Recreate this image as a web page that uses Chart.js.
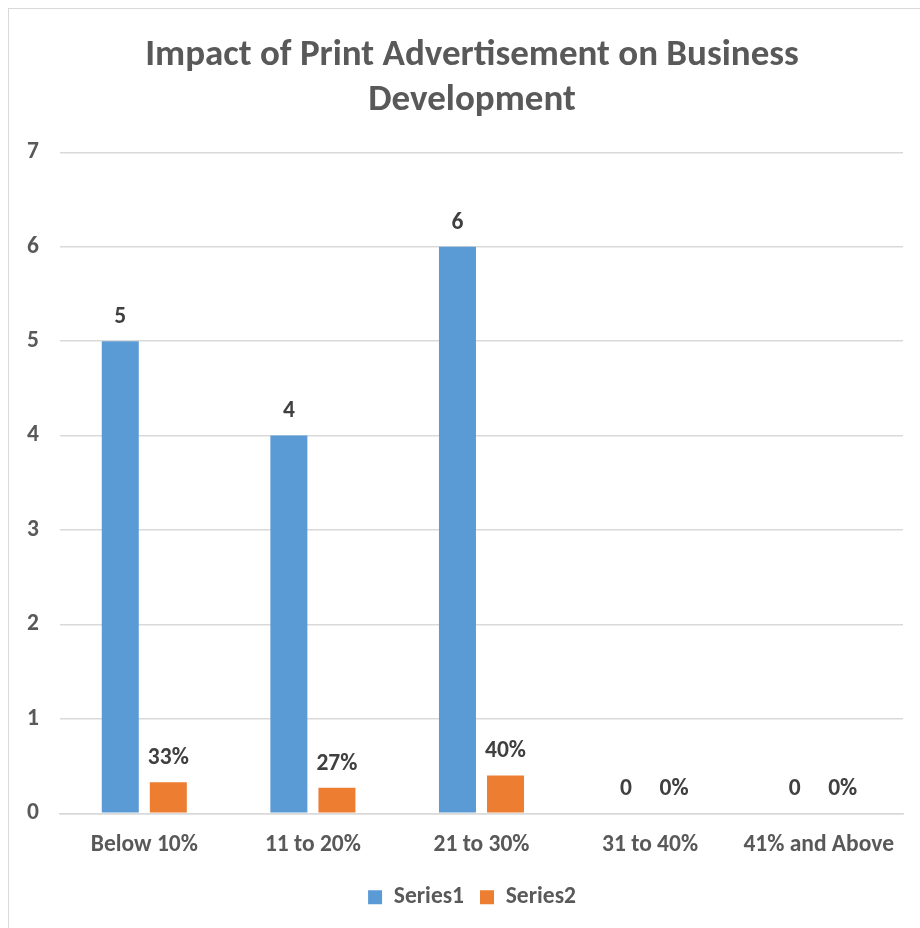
<!DOCTYPE html>
<html>
<head>
<meta charset="utf-8">
<title>Impact of Print Advertisement on Business Development</title>
<script src="https://cdn.jsdelivr.net/npm/chart.js@4/dist/chart.umd.min.js"></script>
<style>
  html, body { margin: 0; padding: 0; background: #ffffff; }
  #frame {
    position: absolute; left: 8px; top: 8px;
    width: 940px; height: 940px;
    border: 1px solid #d9d9d9;
  }
  #wrap { position: absolute; left: 0; top: 0; width: 920px; height: 928px; }
</style>
</head>
<body>
<div id="frame"></div>
<div id="wrap"><canvas id="impactChart"></canvas></div>
<script>
// Impact of print ads, grouped by growth band
var categories = ['Below 10%', '11 to 20%', '21 to 30%', '31 to 40%', '41% and Above'];
var series1 = [5, 4, 6, 0, 0];
var series2 = [0.33, 0.27, 0.40, 0, 0];
var yTicks = [0, 1, 2, 3, 4, 5, 6, 7];

var FONT = "Carlito, 'Liberation Sans Narrow', 'Open Sans', sans-serif";
var GREY = '#595959';

// Value labels over each bar (Series2 shown as percent)
var barLabels = {
    id: 'barLabels',
    afterDatasetsDraw: function(chart) {
        var ctx = chart.ctx;
        ctx.save();
        ctx.font = 'bold 23.5px ' + FONT;
        ctx.fillStyle = '#404040';
        ctx.textAlign = 'center';
        ctx.textBaseline = 'middle';
        chart.data.datasets.forEach(function(ds, i) {
            var meta = chart.getDatasetMeta(i);
            meta.data.forEach(function(bar, j) {
                var v = ds.data[j];
                var txt = i === 1 ? Math.round(v * 100) + '%' : String(v);
                ctx.fillText(txt, bar.x, bar.y - 24);
            });
        });
        ctx.restore();
    }
};

new Chart(document.getElementById('impactChart'), {
    type: 'bar',
    data: {
        labels: categories,
        datasets: [{
            label: 'Series1',
            data: series1,
            backgroundColor: '#5b9bd5',
            borderWidth: 0
        }, {
            label: 'Series2',
            data: series2,
            backgroundColor: '#ed7d31',
            borderWidth: 0
        }]
    },
    options: {
        responsive: true,
        maintainAspectRatio: false,
        animation: false,
        categoryPercentage: 0.57,
        barPercentage: 0.77,
        layout: { padding: { left: 41, right: 17, top: 33, bottom: 9 } },
        plugins: {
            title: {
                display: true,
                text: ['Impact of Print Advertisement on Business', 'Development'],
                color: GREY,
                font: { family: FONT, size: 37, weight: 'bold', lineHeight: 1.22 },
                padding: { top: 0, bottom: 29 }
            },
            legend: {
                position: 'bottom',
                labels: {
                    color: GREY,
                    font: { family: FONT, size: 23.5, weight: 'bold' },
                    boxWidth: 14,
                    boxHeight: 14,
                    padding: 16
                }
            },
            tooltip: { enabled: false }
        },
        scales: {
            x: {
                grid: { display: false },
                border: { display: true, color: '#d9d9d9', width: 1.5 },
                ticks: {
                    color: GREY,
                    font: { family: FONT, size: 23.5, weight: 'bold' },
                    padding: 10,
                    maxRotation: 0
                }
            },
            y: {
                min: 0,
                max: yTicks[yTicks.length - 1],
                afterBuildTicks: function(axis) {
                    axis.ticks = yTicks.map(function(v) { return { value: v }; });
                },
                // narrow axis box; mirrored labels pulled back out to the left
                afterFit: function(axis) { axis.width = 19; },
                grid: { color: '#d9d9d9', lineWidth: 1.5, drawTicks: false },
                border: { display: false },
                ticks: {
                    mirror: true,
                    padding: -33,
                    color: GREY,
                    font: { family: FONT, size: 23.5, weight: 'bold' }
                }
            }
        }
    },
    plugins: [barLabels]
});
</script>
</body>
</html>
